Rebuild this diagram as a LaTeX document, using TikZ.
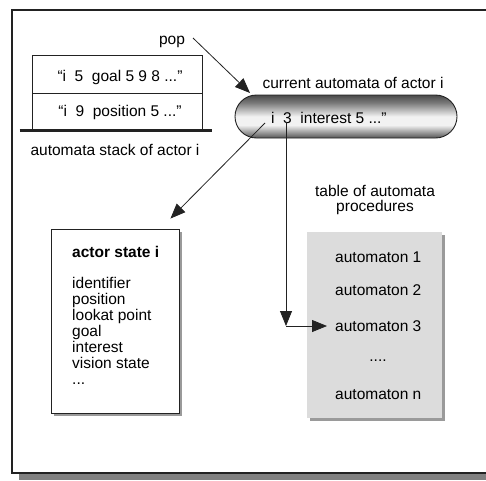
\documentclass[tikz,border=0pt]{standalone}
\usepackage{fontspec}
\setmainfont{Liberation Sans}
\usetikzlibrary{arrows.meta,shapes.misc,shadows,calc}

\definecolor{ink}{HTML}{222222}
\definecolor{capdark}{HTML}{555555}
\definecolor{caplight}{HTML}{F2F2F2}
\definecolor{capmid}{HTML}{7A7A7A}
\definecolor{captop}{HTML}{4A4A4A}
\definecolor{tablefill}{HTML}{DCDCDC}
\definecolor{shadowgray}{HTML}{9A9A9A}
\definecolor{frameshadow}{HTML}{808080}

% cylinder-like shading for the current automaton capsule
\pgfdeclareverticalshading{capsuleshade}{100bp}{%
  color(0bp)=(capdark); color(25bp)=(capdark); color(40bp)=(caplight);
  color(50bp)=(caplight); color(66bp)=(capmid); color(75bp)=(captop);
  color(100bp)=(captop)}

\tikzset{
  arr/.style={-{Triangle[length=15pt,width=12pt]}, line width=0.8pt, draw=ink},
  cell/.style={draw=ink, line width=0.9pt, rectangle, minimum width=170pt,
               inner sep=0pt},
  txt/.style={inner sep=0pt, text=black},
  capsule/.style={rounded rectangle, draw=ink, line width=0.9pt,
                  shading=capsuleshade, minimum width=222pt,
                  minimum height=43pt, inner sep=0pt},
  statebox/.style={draw=ink, line width=0.9pt, fill=white, rectangle,
                   minimum width=128pt, minimum height=184pt, inner sep=0pt,
                   drop shadow={shadow xshift=3pt, shadow yshift=-3pt,
                                fill=shadowgray, opacity=1}},
  tablebox/.style={fill=tablefill, rectangle, minimum width=135pt,
                   minimum height=186pt, inner sep=0pt,
                   drop shadow={shadow xshift=3pt, shadow yshift=-3pt,
                                fill=shadowgray, opacity=1}},
}

\begin{document}
\begin{tikzpicture}[x=1pt, y=-1pt, font=\fontsize{15.5}{16}\selectfont]
  \useasboundingbox (0,0) rectangle (486,480);
  \clip (0,0) rectangle (486,480);

  % outer frame with its shadow
  \fill[frameshadow] (19,473) rectangle (500,480);
  \draw[ink, line width=1.3pt, fill=white] (12,10) rectangle (500,473);

  % automata stack
  \node[cell, minimum height=38pt] (s1) at (117,74) {};
  \node[cell, minimum height=37pt] (s2) at (117,111.5) {};
  \node[txt] (s1t) at (120,77) {“i\ \ 5\ \ goal 5 9 8 ...”};
  \node[txt] (s2t) at (120,112) {“i\ \ 9\ \ position 5 ...”};
  \draw[ink, line width=2.6pt] ([xshift=-12pt]s2.south west) -- ([xshift=10pt]s2.south east);
  \node[txt] (stacklbl) at (115,150) {automata stack of actor i};

  % pop
  \node[txt] (pop) at (172,42) {pop};
  \coordinate (popstart) at (193,38);

  % current automaton
  \node[capsule] (cur) at (346,116.5) {};
  \node[txt, anchor=west] (curtxt) at (271,118) {i\ \ 3\ \ interest 5 ...”};
  \node[txt] (curlbl) at (353,83) {current automata of actor i};

  % actor state
  \node[statebox] (state) at (115,321) {};
  \node[txt, anchor=base west, font=\fontsize{15.5}{16}\selectfont\bfseries] (statetitle) at (72,257.5) {actor state i};
  \node[txt, anchor=north west, align=left] (statelist) at (72,277)
    {identifier\\position\\lookat point\\goal\\interest\\vision state\\...};

  % table of automata procedures
  \node[txt, align=center, font=\fontsize{15.5}{15}\selectfont] (tablbl) at (375,200) {table of automata\\procedures};
  \node[tablebox] (tab) at (374.5,325) {};
  \node[txt, anchor=west] (a1) at (335,257) {automaton 1};
  \node[txt, anchor=west] (a2) at (335,290) {automaton 2};
  \node[txt, anchor=west] (a3) at (335,326) {automaton 3};
  \node[txt] (adots) at (378,361) {....};
  \node[txt, anchor=west] (an) at (335,395) {automaton n};

  % connectors
  \draw[arr] (popstart) -- ([shift={(-96,-23.5)}]cur.center);
  \draw[arr] ([shift={(-81,6.5)}]cur.center) -- ([shift={(-9,-10)}]state.north east);
  \coordinate (corner) at ([shift={(-60,209.5)}]cur.center);
  \draw[arr] ([shift={(-60,5.5)}]cur.center) -- (corner);
  \draw[arr] (corner) -- ([xshift=-8pt]a3.west);
\end{tikzpicture}
\end{document}
